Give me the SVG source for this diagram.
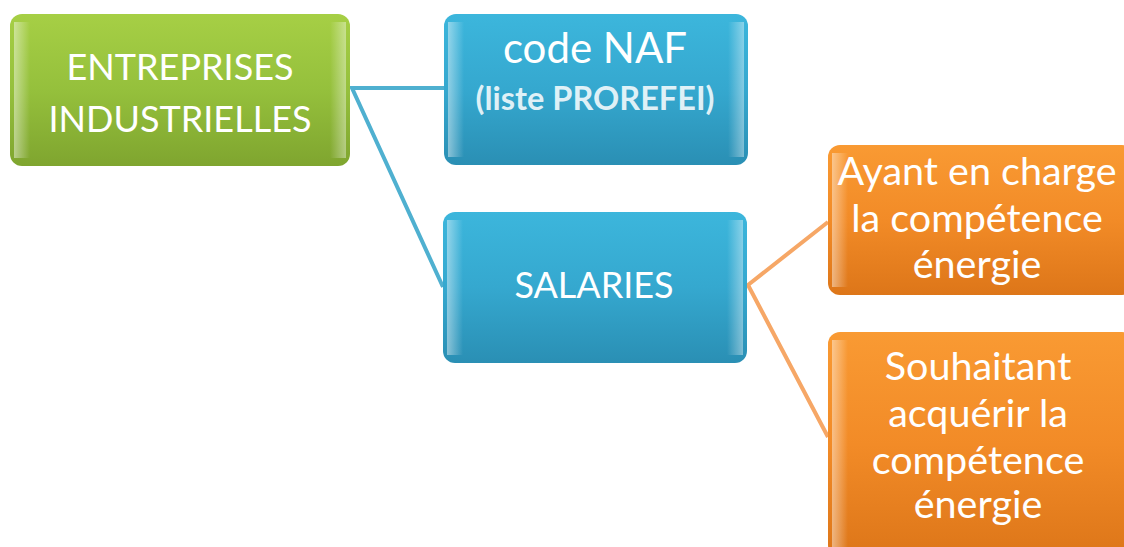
<svg xmlns="http://www.w3.org/2000/svg" width="1124" height="547" viewBox="0 0 1124 547">
<defs>
<linearGradient id="gG" x1="0" y1="0" x2="0" y2="1"><stop offset="0" stop-color="#a6cf45"/><stop offset="0.5" stop-color="#95c03c"/><stop offset="1" stop-color="#7fa52f"/></linearGradient>
<linearGradient id="gB" x1="0" y1="0" x2="0" y2="1"><stop offset="0" stop-color="#3cb6dc"/><stop offset="0.5" stop-color="#35a8cf"/><stop offset="1" stop-color="#2a8fb4"/></linearGradient>
<linearGradient id="gO" x1="0" y1="0" x2="0" y2="1"><stop offset="0" stop-color="#f99a33"/><stop offset="0.5" stop-color="#f28b27"/><stop offset="1" stop-color="#dd7619"/></linearGradient>
<linearGradient id="edgeL" x1="0" y1="0" x2="1" y2="0"><stop offset="0" stop-color="#fff" stop-opacity="0.45"/><stop offset="1" stop-color="#fff" stop-opacity="0"/></linearGradient>
<linearGradient id="edgeR" x1="0" y1="0" x2="1" y2="0"><stop offset="0" stop-color="#fff" stop-opacity="0"/><stop offset="1" stop-color="#fff" stop-opacity="0.4"/></linearGradient>
</defs>
<style>
.t{font-family:Lato,"Open Sans",sans-serif;fill:#ffffff;text-anchor:middle}
.o{font-size:39.5px}
.blue{fill:none;stroke:#4fb0d0;stroke-width:4}
.orange{fill:none;stroke:#f6a766;stroke-width:4}
</style>
<rect width="1124" height="547" fill="#ffffff"/>
<g id="connectors">
<polyline class="blue" points="444,88 352,88 443,287"/>
<polyline class="orange" points="828,222 748,285 828,437"/>
</g>
<g id="node-entreprises">
<rect x="10" y="14" width="340" height="152" rx="12" fill="url(#gG)"/>
<rect x="14" y="22" width="16" height="136" fill="url(#edgeL)"/>
<rect x="330" y="22" width="16" height="136" fill="url(#edgeR)"/>
<text class="t" x="180" y="80" font-size="36">ENTREPRISES</text>
<text class="t" x="180" y="132" font-size="36">INDUSTRIELLES</text>
</g>
<g id="node-naf">
<rect x="444" y="14" width="304" height="151" rx="12" fill="url(#gB)"/>
<rect x="448" y="22" width="16" height="135" fill="url(#edgeL)"/>
<rect x="728" y="22" width="16" height="135" fill="url(#edgeR)"/>
<text class="t" x="595" y="63" font-size="42">code NAF</text>
<text class="t" x="595" y="110" font-size="32.5" font-weight="bold" fill-opacity="0.85">(liste PROREFEI)</text>
</g>
<g id="node-salaries">
<rect x="443" y="212" width="304" height="151" rx="12" fill="url(#gB)"/>
<rect x="447" y="220" width="16" height="135" fill="url(#edgeL)"/>
<rect x="727" y="220" width="16" height="135" fill="url(#edgeR)"/>
<text class="t" x="594" y="298" font-size="36">SALARIES</text>
</g>
<g id="node-ayant">
<rect x="828" y="145" width="306" height="150" rx="12" fill="url(#gO)"/>
<rect x="832" y="153" width="16" height="134" fill="url(#edgeL)"/>
<text class="t o" x="977" y="185">Ayant en charge</text>
<text class="t o" x="977" y="232">la compétence</text>
<text class="t o" x="977" y="278">énergie</text>
</g>
<g id="node-souhaitant">
<rect x="828" y="332" width="306" height="225" rx="12" fill="url(#gO)"/>
<rect x="832" y="340" width="16" height="210" fill="url(#edgeL)"/>
<text class="t o" x="978" y="380">Souhaitant</text>
<text class="t o" x="978" y="427">acquérir la</text>
<text class="t o" x="978" y="474">compétence</text>
<text class="t o" x="978" y="518">énergie</text>
</g>
</svg>
